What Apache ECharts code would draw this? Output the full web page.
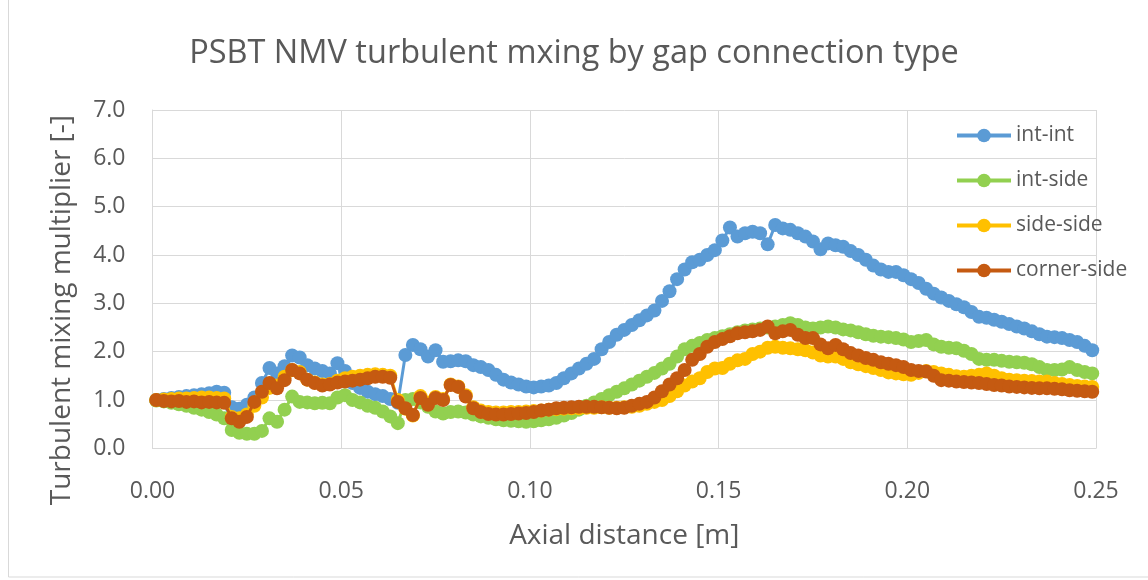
<!DOCTYPE html>
<html>
<head>
<meta charset="utf-8">
<script src="https://cdn.jsdelivr.net/npm/echarts@6/dist/echarts.min.js"></script>
<style>
html,body{margin:0;padding:0;background:#fff;}
#chart{width:1148px;height:580px;}
</style>
</head>
<body>
<div id="chart"></div>
<script>
// axial positions [m]
const xStart = 0.001, xStep = 0.002, nPts = 125;
const xValues = [];
for (let i = 0; i < nPts; i++) xValues.push(+(xStart + xStep * i).toFixed(4));

const intInt = [
  1.00,1.02,1.04,1.06,1.08,1.10,1.12,1.14,1.17,1.15,
  0.85,0.82,0.90,1.05,1.35,1.66,1.55,1.70,1.92,1.88,
  1.72,1.65,1.60,1.55,1.76,1.60,1.35,1.25,1.17,1.12,
  1.08,1.02,0.94,1.93,2.14,2.05,1.90,2.03,1.79,1.80,
  1.82,1.80,1.72,1.68,1.62,1.52,1.42,1.36,1.32,1.28,
  1.26,1.28,1.30,1.35,1.45,1.55,1.65,1.75,1.85,2.05,
  2.20,2.35,2.45,2.55,2.65,2.75,2.85,3.05,3.25,3.50,
  3.70,3.85,3.90,4.00,4.10,4.30,4.57,4.38,4.45,4.48,
  4.45,4.22,4.62,4.55,4.52,4.45,4.38,4.28,4.12,4.24,
  4.20,4.17,4.08,4.00,3.90,3.78,3.70,3.65,3.65,3.58,
  3.50,3.42,3.30,3.20,3.12,3.05,2.98,2.92,2.82,2.72,
  2.70,2.66,2.62,2.57,2.52,2.48,2.42,2.36,2.31,2.30,
  2.28,2.24,2.20,2.12,2.03
];
const intSide = [
  0.99,0.97,0.94,0.91,0.88,0.84,0.80,0.75,0.70,0.62,
  0.38,0.32,0.30,0.30,0.36,0.62,0.55,0.80,1.07,0.96,
  0.95,0.93,0.94,0.93,1.05,1.10,1.00,0.95,0.88,0.84,
  0.76,0.66,0.52,1.00,1.02,0.95,0.86,0.76,0.72,0.75,
  0.76,0.74,0.70,0.66,0.63,0.60,0.58,0.57,0.56,0.55,
  0.56,0.58,0.60,0.63,0.68,0.73,0.80,0.88,0.95,1.02,
  1.10,1.17,1.24,1.32,1.40,1.48,1.56,1.65,1.75,1.90,
  2.05,2.12,2.18,2.24,2.28,2.32,2.36,2.40,2.44,2.46,
  2.48,2.50,2.52,2.55,2.59,2.55,2.50,2.48,2.50,2.52,
  2.50,2.46,2.44,2.40,2.36,2.33,2.31,2.30,2.28,2.25,
  2.20,2.22,2.24,2.15,2.10,2.08,2.07,2.02,1.95,1.85,
  1.83,1.83,1.81,1.79,1.78,1.77,1.74,1.68,1.62,1.62,
  1.63,1.68,1.62,1.58,1.55
];
const sideSide = [
  1.00,1.01,1.02,1.03,1.03,1.04,1.05,1.05,1.04,1.03,
  0.65,0.62,0.70,0.88,1.05,1.25,1.30,1.48,1.62,1.58,
  1.42,1.36,1.32,1.33,1.40,1.45,1.48,1.50,1.52,1.53,
  1.52,1.50,1.00,0.82,0.68,1.08,0.95,1.06,1.02,1.32,
  1.28,1.10,0.85,0.78,0.75,0.74,0.74,0.75,0.75,0.76,
  0.77,0.78,0.80,0.81,0.82,0.83,0.83,0.84,0.84,0.85,
  0.84,0.84,0.85,0.86,0.88,0.92,0.96,1.00,1.08,1.18,
  1.30,1.38,1.45,1.58,1.65,1.66,1.75,1.82,1.85,1.95,
  2.00,2.08,2.10,2.08,2.07,2.05,2.03,1.98,1.92,1.90,
  1.90,1.85,1.78,1.74,1.70,1.66,1.62,1.57,1.55,1.53,
  1.52,1.56,1.60,1.58,1.55,1.52,1.49,1.48,1.50,1.52,
  1.55,1.50,1.45,1.42,1.41,1.40,1.39,1.38,1.38,1.35,
  1.33,1.31,1.29,1.28,1.27
];
const cornerSide = [
  1.00,0.98,0.97,0.98,0.96,0.97,0.95,0.96,0.95,0.94,
  0.62,0.55,0.65,0.96,1.17,1.35,1.24,1.41,1.62,1.55,
  1.42,1.35,1.30,1.32,1.36,1.38,1.40,1.42,1.45,1.48,
  1.48,1.46,0.96,0.83,0.69,1.04,0.90,1.04,1.00,1.31,
  1.27,1.07,0.83,0.75,0.71,0.70,0.70,0.71,0.72,0.73,
  0.75,0.78,0.80,0.83,0.84,0.85,0.86,0.86,0.86,0.85,
  0.84,0.83,0.84,0.88,0.92,0.96,1.05,1.18,1.32,1.45,
  1.62,1.83,1.95,2.10,2.20,2.26,2.32,2.38,2.40,2.42,
  2.45,2.52,2.38,2.42,2.45,2.35,2.28,2.28,2.15,2.07,
  2.14,2.05,1.97,1.92,1.87,1.83,1.78,1.75,1.72,1.68,
  1.62,1.60,1.59,1.50,1.41,1.40,1.38,1.37,1.36,1.35,
  1.33,1.31,1.30,1.28,1.27,1.26,1.25,1.24,1.24,1.23,
  1.22,1.20,1.19,1.18,1.17
];

const seriesNames = ['int-int','int-side','side-side','corner-side'];
const seriesColors = ['#5B9BD5','#92D050','#FFC000','#C55A11'];
const seriesValues = [intInt, intSide, sideSide, cornerSide];

const FONT = '"Open Sans", "Noto Sans", sans-serif';
const TXT = '#595959';

const chart = echarts.init(document.getElementById('chart'), null, {renderer:'canvas'});
chart.setOption({
  animation: false,
  backgroundColor: '#ffffff',
  title: {
    text: 'PSBT NMV turbulent mxing by gap connection type',
    left: 'center', top: 37, padding: [0, 0, 0, 12],
    textStyle: {fontFamily: FONT, fontSize: 32.5, fontWeight: 'normal', color: TXT}
  },
  graphic: [{
    type: 'rect', silent: true, z: -1,
    shape: {x: 8.5, y: -2, width: 1160, height: 579},
    style: {fill: 'none', stroke: '#D9D9D9', lineWidth: 1}
  }],
  legend: {
    orient: 'vertical', left: 950, top: 120,
    itemWidth: 54, itemHeight: 17, itemGap: 24,
    lineStyle: {width: 4},
    textStyle: {fontFamily: FONT, fontSize: 21, color: TXT},
    data: seriesNames
  },
  grid: {left: 152.5, right: 52, top: 110, bottom: 131.7, containLabel: false},
  xAxis: {
    type: 'value', min: 0, max: 0.25, interval: 0.05,
    name: 'Axial distance [m]', nameLocation: 'middle', nameGap: 74,
    nameTextStyle: {fontFamily: FONT, fontSize: 28, color: TXT},
    axisLine: {show: true, lineStyle: {color: '#D9D9D9', width: 1}},
    axisTick: {show: false},
    axisLabel: {fontFamily: FONT, fontSize: 23, color: TXT, margin: 32,
      formatter: v => v.toFixed(2)},
    splitLine: {show: true, lineStyle: {color: '#D9D9D9', width: 1}}
  },
  yAxis: {
    type: 'value', min: 0, max: 7, interval: 1,
    name: 'Turbulent mixing multiplier [-]', nameLocation: 'middle', nameGap: 76,
    nameTextStyle: {fontFamily: FONT, fontSize: 28, color: TXT, padding: [0, 62, 0, 0]},
    axisLine: {show: true, lineStyle: {color: '#D9D9D9', width: 1}},
    axisTick: {show: false},
    axisLabel: {fontFamily: FONT, fontSize: 23, color: TXT, margin: 27,
      formatter: v => v.toFixed(1)},
    splitLine: {show: true, lineStyle: {color: '#D9D9D9', width: 1}}
  },
  series: seriesNames.map((name, k) => ({
    name: name, type: 'line',
    data: xValues.map((x, i) => [x, seriesValues[k][i]]),
    symbol: 'circle', symbolSize: 14, showAllSymbol: true,
    lineStyle: {color: seriesColors[k], width: 3},
    itemStyle: {color: seriesColors[k]},
    z: 2 + k
  }))
});
</script>
</body>
</html>
